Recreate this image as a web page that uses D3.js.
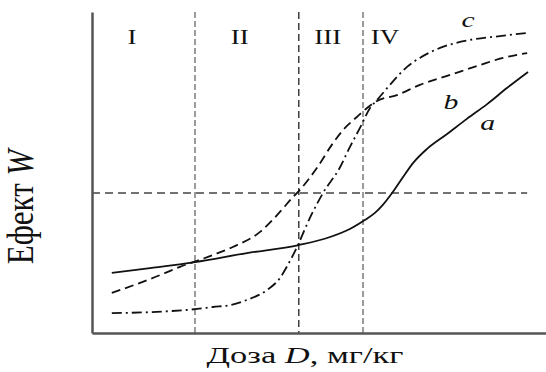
<!DOCTYPE html>
<html><head><meta charset="utf-8">
<script src="https://cdn.jsdelivr.net/npm/d3@7"></script>
<style>body{margin:0;background:#fff}svg{display:block}</style>
</head><body><svg id="c" width="546" height="372"></svg>
<script>
// Dose (relative units) and effect (relative units)
const doseA = [0.45,1.32,2.34,3.52,4.70,5.41,5.86,6.20,6.43,6.61,6.82,7.07,7.30,7.61,8.07,8.52,8.98,9.43,9.91];
const effA  = [1.87,2.02,2.21,2.49,2.74,2.99,3.24,3.52,3.74,3.99,4.36,4.86,5.30,5.73,6.20,6.67,7.13,7.63,8.13];
const doseB = [0.45,1.32,2.00,2.75,3.20,3.82,4.27,4.57,4.70,5.11,5.48,5.75,6.02,6.25,6.48,6.93,7.45,8.14,8.82,9.34,9.89];
const effB  = [1.25,1.68,2.06,2.43,2.68,3.15,3.77,4.24,4.42,5.14,5.92,6.39,6.73,7.01,7.23,7.41,7.73,8.04,8.35,8.57,8.72];
const doseC = [0.45,1.32,2.39,2.75,3.14,3.52,3.98,4.27,4.45,4.68,4.95,5.25,5.64,5.86,6.09,6.32,6.48,6.77,7.16,7.45,7.91,8.59,9.27,9.89];
const effC  = [0.62,0.65,0.75,0.81,0.87,1.03,1.34,1.71,2.12,2.74,3.58,4.36,5.17,5.79,6.39,7.01,7.26,7.73,8.29,8.57,8.88,9.13,9.25,9.35];
const zoneBounds = [2.34, 4.70, 6.16];
const zoneLabels = ["I","II","III","IV"];
const zoneLabelDose = [0.91, 3.36, 5.36, 6.66];
const midEffect = 4.36;
const curveNames = ["a","b","c"];

const FONT = "'Liberation Serif','DejaVu Serif',serif";
const svg = d3.select("#c");
const x = d3.scaleLinear().domain([0,10]).range([92,532]);
const y = d3.scaleLinear().domain([0,10]).range([333,12]);

// zone boundaries
const vStyles = [
  {stroke:"#9a9a9a", w:2, dash:"6,3"},
  {stroke:"#222", w:1.3, dash:"7,4"},
  {stroke:"#9a9a9a", w:2, dash:"6,3"}
];
zoneBounds.forEach((d,i)=>{
  svg.append("line").attr("x1",x(d)).attr("x2",x(d)).attr("y1",y(10)).attr("y2",y(0))
    .attr("stroke",vStyles[i].stroke).attr("stroke-width",vStyles[i].w).attr("stroke-dasharray",vStyles[i].dash);
});
// horizontal mid line
svg.append("line").attr("x1",x(0)).attr("x2",x(9.89)).attr("y1",y(midEffect)).attr("y2",y(midEffect))
  .attr("stroke","#444").attr("stroke-width",1.4).attr("stroke-dasharray","8,5");

// axes
svg.append("g").attr("transform",`translate(${x(0)},0)`)
  .call(d3.axisLeft(y).tickValues([]).tickSizeOuter(0))
  .call(g=>g.select(".domain").attr("stroke","#555").attr("stroke-width",2.5));
const x2 = d3.scaleLinear().domain([0,10]).range([92,546]);
svg.append("g").attr("transform",`translate(0,${y(0)})`)
  .call(d3.axisBottom(x2).tickValues([]).tickSizeOuter(0))
  .call(g=>g.select(".domain").attr("stroke","#555").attr("stroke-width",2.5));

const line = d3.line().x(d=>x(d[0])).y(d=>y(d[1])).curve(d3.curveMonotoneX);
const zip = (a,b)=>a.map((v,i)=>[v,b[i]]);
svg.append("path").attr("d",line(zip(doseA,effA))).attr("fill","none").attr("stroke","#111").attr("stroke-width",1.8);
svg.append("path").attr("d",line(zip(doseB,effB))).attr("fill","none").attr("stroke","#111").attr("stroke-width",1.8).attr("stroke-dasharray","9,5");
svg.append("path").attr("d",line(zip(doseC,effC))).attr("fill","none").attr("stroke","#111").attr("stroke-width",1.8).attr("stroke-dasharray","10,4,2,4");

// zone labels
zoneLabels.forEach((t,i)=>{
  svg.append("text").attr("transform",`translate(${x(zoneLabelDose[i])},44) scale(1.35,1)`).attr("text-anchor","middle")
    .attr("font-family",FONT).attr("font-size",20).attr("fill","#111").text(t);
});
// curve labels
const curveLabelPos = [[8.99,6.32],[8.16,6.97],[8.55,9.53]];
curveNames.forEach((t,i)=>{
  svg.append("text").attr("transform",`translate(${x(curveLabelPos[i][0])},${y(curveLabelPos[i][1])}) scale(1.35,1)`).attr("text-anchor","middle")
    .attr("font-family",FONT).attr("font-size",22).attr("font-style","italic").attr("fill","#111").text(t);
});

// axis titles
const xt = svg.append("text").attr("transform","translate(305,363) scale(1.5,1)").attr("text-anchor","middle")
  .attr("font-family",FONT).attr("font-size",23).attr("fill","#111");
xt.append("tspan").text("Доза ");
xt.append("tspan").attr("font-style","italic").text("D");
xt.append("tspan").text(", мг/кг");
const yt = svg.append("text").attr("transform","translate(33,207) scale(1.2,1) rotate(-90)").attr("text-anchor","middle")
  .attr("font-family",FONT).attr("font-size",31).attr("fill","#111");
yt.append("tspan").text("Ефект ");
yt.append("tspan").attr("font-style","italic").text("W");
</script></body></html>
